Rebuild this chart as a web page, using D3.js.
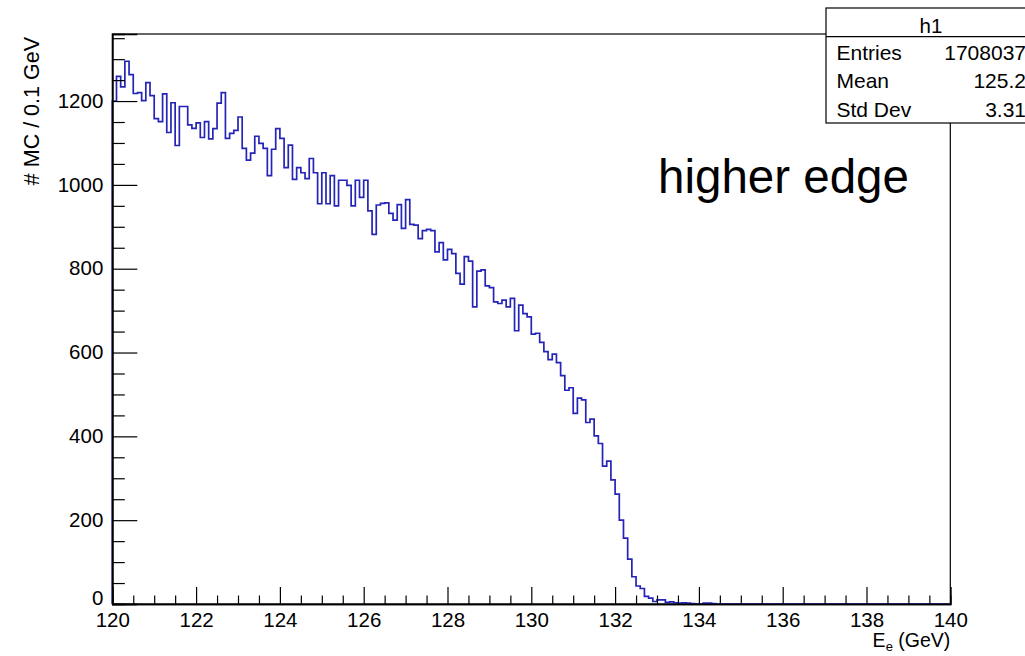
<!DOCTYPE html>
<html>
<head>
<meta charset="utf-8">
<script src="https://cdn.jsdelivr.net/npm/d3@7"></script>
<style>
  body { margin: 0; background: #fff; }
  svg { display: block; }
  text { font-family: "Liberation Sans", Arial, Helvetica, sans-serif; fill: #000; }
</style>
</head>
<body>
<svg id="chart" width="1025" height="656"></svg>
<script>
// Histogram h1: electron energy, 0.1 GeV bins starting at 120 GeV
const binStart = 120;
const binWidth = 0.1;
const counts = [
  1200, 1259, 1234, 1295, 1263, 1218, 1220, 1201, 1244, 1213,
  1158, 1151, 1217, 1125, 1196, 1094, 1187, 1187, 1143, 1135,
  1148, 1113, 1151, 1110, 1134, 1195, 1220, 1111, 1123, 1130,
  1162, 1087, 1059, 1076, 1116, 1099, 1087, 1022, 1085, 1134,
  1111, 1041, 1095, 1013, 1041, 1029, 1015, 1063, 1029, 955,
  1029, 955, 1022, 950, 1011, 1011, 999, 950, 1011, 970,
  1011, 938, 882, 952, 956, 957, 932, 916, 953, 896,
  965, 906, 904, 872, 891, 894, 891, 840, 862, 821,
  846, 836, 789, 763, 829, 818, 709, 794, 797, 759,
  755, 721, 717, 725, 709, 729, 652, 713, 693, 685,
  644, 646, 624, 602, 583, 596, 576, 545, 510, 516,
  455, 491, 487, 433, 441, 401, 383, 329, 341, 296,
  262, 200, 157, 107, 65, 43, 37, 18, 14, 6,
  10, 10, 4, 5, 3, 2, 3, 2, 1, 0,
  0, 2, 2, 1, 0, 0, 0, 0, 0, 0
];

const xDomain = [120, 140];
const yDomain = [0, 1360];
const xMajorTicks = [120, 122, 124, 126, 128, 130, 132, 134, 136, 138, 140];
const yMajorTicks = [0, 200, 400, 600, 800, 1000, 1200];
const xMinorStep = 0.5;
const yMinorStep = 50;

const statsTitle = "h1";
const statsLabels = ["Entries", "Mean", "Std Dev"];
const statsValues = ["1708037", "125.2", "3.31"];

const xTitleMain = "E";
const xTitleSub = "e";
const xTitleUnit = " (GeV)";
const yTitle = "# MC / 0.1 GeV";
const annotation = "higher edge";

// ---- layout ----
const W = 1025, H = 656;
const frame = { left: 112.3, right: 950.3, top: 34, bottom: 604 };
const lineColor = "#2424b8";

const svg = d3.select("#chart");
svg.append("rect").attr("width", W).attr("height", H).attr("fill", "#fff");

const x = d3.scaleLinear().domain(xDomain).range([frame.left, frame.right]);
const y = d3.scaleLinear().domain(yDomain).range([frame.bottom, frame.top]);

// frame box
svg.append("rect")
  .attr("x", frame.left).attr("y", frame.top)
  .attr("width", frame.right - frame.left)
  .attr("height", frame.bottom - frame.top)
  .attr("fill", "none").attr("stroke", "#000").attr("stroke-width", 1.2);

// histogram outline as a step line
const pts = [[x(binStart), y(0)]];
counts.forEach((c, i) => {
  const lo = binStart + i * binWidth;
  const hi = lo + binWidth;
  pts.push([x(lo), y(c)]);
  pts.push([x(hi), y(c)]);
});
pts.push([x(binStart + counts.length * binWidth), y(0)]);
pts.push([x(xDomain[1]), y(0)]);

svg.append("path")
  .attr("d", d3.line()(pts))
  .attr("fill", "none")
  .attr("stroke", lineColor)
  .attr("stroke-width", 1.7)
  .attr("stroke-linejoin", "miter");

// minor ticks
const xMinor = d3.range(xDomain[0], xDomain[1] + 1e-9, xMinorStep).filter(v => !xMajorTicks.includes(v));
const yMinor = d3.range(yDomain[0], yDomain[1] + 1e-9, yMinorStep).filter(v => !yMajorTicks.includes(v));

const xMinorAxis = svg.append("g")
  .attr("transform", `translate(0,${frame.bottom})`)
  .call(d3.axisBottom(x).tickValues(xMinor).tickSize(-8.5).tickFormat(""));
const yMinorAxis = svg.append("g")
  .attr("transform", `translate(${frame.left},0)`)
  .call(d3.axisLeft(y).tickValues(yMinor).tickSize(-12.5).tickFormat(""));

// major ticks with labels
const xAxis = svg.append("g")
  .attr("transform", `translate(0,${frame.bottom})`)
  .call(d3.axisBottom(x).tickValues(xMajorTicks).tickSize(-17).tickPadding(8).tickFormat(d3.format("d")));
const yAxis = svg.append("g")
  .attr("transform", `translate(${frame.left},0)`)
  .call(d3.axisLeft(y).tickValues(yMajorTicks).tickSize(-25).tickPadding(9).tickFormat(d3.format("d")));

[xMinorAxis, yMinorAxis, xAxis, yAxis].forEach(g => {
  g.select(".domain").attr("stroke", "#000").attr("stroke-width", 1.4);
  g.selectAll(".tick line").attr("stroke", "#000").attr("stroke-width", 1.2);
  g.selectAll("text").attr("font-size", 20.5).attr("fill", "#1a1a1a")
    .style("font-family", '"Liberation Sans", Arial, sans-serif');
});
yAxis.selectAll(".tick text").attr("dy", "0.3em");
// the zero label sits just above the first x label
yAxis.selectAll(".tick text").filter(d => d === 0).attr("dy", "0em");

// axis titles
const xt = svg.append("text")
  .attr("x", frame.right).attr("y", 647)
  .attr("text-anchor", "end").attr("font-size", 19.5);
xt.append("tspan").text(xTitleMain);
xt.append("tspan").attr("font-size", 13).attr("dy", 4).text(xTitleSub);
xt.append("tspan").attr("dy", -4).text(xTitleUnit);

svg.append("text")
  .attr("transform", `translate(39,${frame.top + 3}) rotate(-90)`)
  .attr("text-anchor", "end")
  .attr("font-size", 21.5)
  .text(yTitle);

// annotation
svg.append("text")
  .attr("x", 658).attr("y", 193)
  .attr("font-size", 47.5)
  .text(annotation);

// statistics box
const sb = { left: 826, top: 8, right: 1040, bottom: 123, header: 36.7 };
svg.append("rect")
  .attr("x", sb.left).attr("y", sb.top)
  .attr("width", sb.right - sb.left).attr("height", sb.bottom - sb.top)
  .attr("fill", "#fff").attr("stroke", "#000").attr("stroke-width", 1.2);
svg.append("line")
  .attr("x1", sb.left).attr("x2", sb.right)
  .attr("y1", sb.header).attr("y2", sb.header)
  .attr("stroke", "#000").attr("stroke-width", 1.2);
svg.append("text")
  .attr("x", 931).attr("y", 33).attr("text-anchor", "middle")
  .attr("font-size", 20.5).text(statsTitle);
const rowBase = [59.5, 88.3, 116.7];
statsLabels.forEach((lab, i) => {
  svg.append("text").attr("x", 836.5).attr("y", rowBase[i])
    .attr("font-size", 21).text(lab);
  svg.append("text").attr("x", 1026).attr("y", rowBase[i])
    .attr("text-anchor", "end").attr("font-size", 21).text(statsValues[i]);
});
</script>
</body>
</html>
